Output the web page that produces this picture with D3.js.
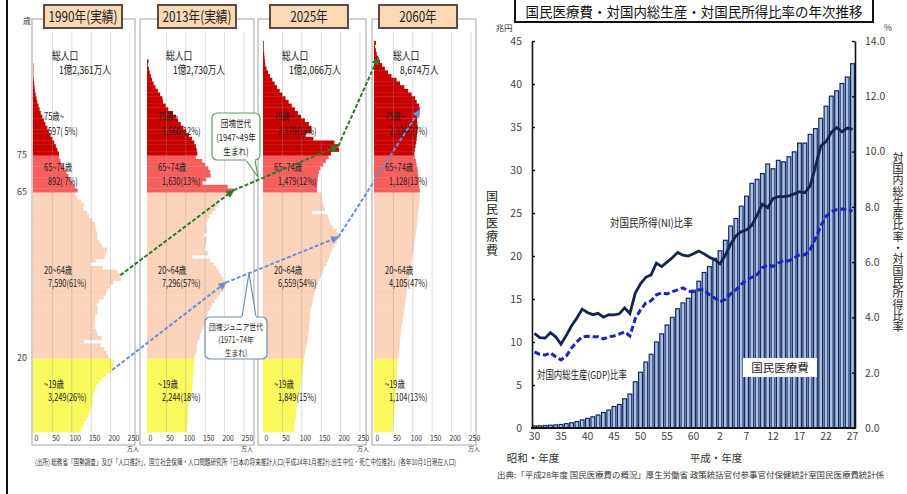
<!DOCTYPE html>
<html>
<head>
<meta charset="utf-8">
<script src="https://cdn.jsdelivr.net/npm/d3@7"></script>
<style>
  body { margin: 0; background: #fff; }
  svg { display: block; font-family: "Noto Sans CJK JP", "Noto Sans", sans-serif; }
</style>
</head>
<body>
<div id="wrapper"></div>
<script>
// ---- left: population by single age (万人), index = age ----
const pop1990 = [
  124,128,132,137,142,145,148,152,154,153,157,159,163,171,177,188,204,206,207,202,
  195,190,184,174,131,177,166,163,158,159,159,160,166,167,165,170,182,188,192,198,
  206,227,225,218,180,147,163,185,189,191,178,172,166,166,164,162,160,153,145,140,
  130,132,124,114,109,
  115,108,102,96,91,86,80,76,71,67,
  67,63,59,55,50,45,41,37,32,28,24,20,17,14,11,9,7,5,4,3,2,1,1,1,1
];
const pop2013 = [
  102,103,104,105,105,106,106,108,110,113,114,116,117,117,118,119,120,119,121,121,
  122,126,129,128,130,135,137,141,145,149,151,154,157,163,169,175,181,188,197,201,
  203,197,191,185,179,172,162,117,158,148,150,153,153,147,155,154,151,156,161,169,
  177,182,185,192,221,
  223,208,143,153,164,163,158,150,142,126,
  130,128,126,122,116,108,101,94,87,80,75,67,55,48,41,40,34,28,22,17,13,10,7,5,2,4
];
const pop2025 = [
  80,81,82,84,85,86,87,88,89,90,93,95,96,98,99,101,102,103,104,106,
  106,108,110,112,114,116,117,118,119,120,121,121,122,123,126,128,130,132,135,138,
  142,146,150,154,157,163,167,170,174,178,183,190,194,195,190,180,174,170,168,127,
  160,156,153,152,150,
  139,139,140,141,142,144,148,155,162,169,
  175,196,194,184,130,110,125,125,118,108,98,90,82,74,66,58,50,43,36,30,24,18,13,9,6,5,4,3,2,2,2
];
const pop2060 = [
  48,49,50,51,52,53,53,54,54,55,56,57,57,58,58,59,59,60,60,61,
  63,64,65,66,67,68,69,70,71,73,74,76,77,79,79,81,82,84,85,87,
  88,90,91,93,94,96,97,99,100,102,103,105,106,108,109,110,111,112,113,114,
  115,116,117,118,118,
  118,117,116,115,114,113,112,110,108,105,
  104,105,107,109,110,111,112,113,112,111,112,116,118,116,110,106,97,88,78,67,58,45,36,28,21,15,11,7,5,3,5
];
const panelTitles = ["1990年(実績)", "2013年(実績)", "2025年", "2060年"];
const totalPop = ["1億2,361万人", "1億2,730万人", "1億2,066万人", "8,674万人"];
const groupNames = ["~19歳", "20~64歳", "65~74歳", "75歳~"];
const groupStarts = [0, 20, 65, 75];
const groupTotals = [
  ["3,249(26%)", "7,590(61%)", "892(\u00a07%)", "597(\u00a05%)"],
  ["2,244(18%)", "7,296(57%)", "1,630(13%)", "1,560(12%)"],
  ["1,849(15%)", "6,559(54%)", "1,479(12%)", "2,179(18%)"],
  ["1,104(13%)", "4,105(47%)", "1,128(13%)", "2,336(27%)"]
];
const popTicks = [0, 50, 100, 150, 200, 250];
const ageTicks = [20, 65, 75];
// age of the two baby-boom cohorts in each panel (last one clamped to top)
const boomerAge = [42.5, 65.5, 77.5, 101.5];
const juniorAge = [16.8, 40.5, 52.8, 87.3];

// ---- right: national medical expenditure, FY 昭和30 (1955) - 平成27 (2015) ----
const fiscalYears = d3.range(1955, 2016);
const medicalCost = [
  0.24,0.26,0.29,0.32,0.36,0.41,0.51,0.61,0.75,0.94,
  1.12,1.30,1.51,1.80,2.08,2.50,2.73,3.40,3.95,5.38,
  6.48,7.67,8.57,10.00,10.95,11.98,12.87,13.87,14.54,15.09,
  16.02,17.07,18.08,18.76,19.73,20.61,21.83,23.48,24.36,25.79,
  26.96,28.45,28.91,29.58,30.70,30.14,31.12,30.95,31.54,32.11,
  33.13,33.13,34.14,34.81,36.01,37.42,38.59,39.21,40.06,40.81,
  42.36
];
const ratioNI = [
  3.42,3.27,3.25,3.45,3.30,3.03,3.35,3.70,3.98,4.30,
  4.18,4.10,4.15,4.01,4.10,4.09,4.13,4.35,4.14,4.87,
  5.22,5.45,5.54,5.97,5.84,6.00,6.16,6.35,6.25,6.22,
  6.30,6.40,6.30,6.18,6.09,5.94,6.25,6.65,6.95,7.10,
  7.17,7.33,7.70,8.10,7.97,8.30,8.37,8.37,8.40,8.47,
  8.55,8.51,8.75,9.45,10.20,10.36,10.69,10.87,10.72,10.85,
  10.80
];
const ratioGDP = [
  2.75,2.66,2.64,2.72,2.58,2.46,2.60,2.90,3.12,3.30,
  3.32,3.30,3.30,3.22,3.30,3.33,3.40,3.48,3.33,3.95,
  4.27,4.52,4.60,4.82,4.89,4.85,4.93,5.00,5.07,4.95,
  4.93,5.00,5.00,4.82,4.70,4.57,4.65,4.85,5.00,5.20,
  5.36,5.45,5.55,5.80,5.90,5.85,5.97,6.05,6.05,6.15,
  6.27,6.27,6.45,6.85,7.30,7.65,7.83,7.90,7.92,7.90,
  7.85
];
const tickYears = [1955,1960,1965,1970,1975,1980,1985,1990,1995,2000,2005,2010,2015];
const tickLabels = ["30","35","40","45","50","55","60","2","7","12","17","22","27"];
const costTicks = [0,5,10,15,20,25,30,35,40,45];
const ratioTicks = [0,2,4,6,8,10,12,14];

const popByAge = [pop1990, pop2013, pop2025, pop2060];

const svg = d3.select("#wrapper").append("svg").attr("width", 907).attr("height", 494);
svg.append("rect").attr("width", 907).attr("height", 494).attr("fill", "#fff");

// make text narrow like the original condensed font (horizontal scale about its anchor)
function squeeze(sel, f) {
  sel.each(function() {
    const t = d3.select(this);
    const x = +t.attr("x") || 0, y = +t.attr("y") || 0;
    t.attr("x", 0).attr("y", 0).attr("transform", `translate(${x},${y}) scale(${f},1)`);
  });
}
function fitWidth(sel, w) {
  sel.each(function() {
    squeeze(d3.select(this), w / this.getComputedTextLength());
  });
}

const defs = svg.append("defs");
[["arrG", "#2b7a2b"], ["arrB", "#6a8fd2"]].forEach(([id, c]) => {
  defs.append("marker").attr("id", id).attr("viewBox", "0 0 10 10")
    .attr("refX", 9).attr("refY", 5).attr("markerWidth", 4).attr("markerHeight", 4)
    .attr("orient", "auto")
    .append("path").attr("d", "M0,0L10,5L0,10z").attr("fill", c);
});

// left border of the slide
svg.append("line").attr("x1", 7).attr("x2", 7).attr("y1", 0).attr("y2", 494)
  .attr("stroke", "#111").attr("stroke-width", 2);

// =============== population pyramids ===============
const ageY = d3.scaleLinear().domain([0, 106]).range([432, 432 - 106 * 3.69]);
const popX = d3.scaleLinear().domain([0, 250]).range([0, 97]);
const panelX0 = [33, 147, 263, 374];
const frameX = [[32, 135], [140, 254], [258, 366], [372, 476]];
const headerCx = [83, 197, 309, 418];
const groupColor = ["#f9f95c", "#fbd3ba", "#f65e5e", "#c80000"];
const groupOf = age => d3.bisectRight(groupStarts, age) - 1;
const nameY = [388, 274, 171, 120];
const numY = [401, 287, 185, 135];

panelX0.forEach((x0, p) => {
  const data = popByAge[p];
  const g = svg.append("g");

  g.append("rect").attr("x", frameX[p][0]).attr("y", 19)
    .attr("width", frameX[p][1] - frameX[p][0]).attr("height", 426)
    .attr("fill", "none").attr("stroke", "#a3a3a3");

  g.selectAll("rect.bar").data(data).join("rect").attr("class", "bar")
    .attr("x", x0)
    .attr("y", (d, i) => ageY(i + 1))
    .attr("height", (d, i) => ageY(i) - ageY(i + 1) + 0.3)
    .attr("width", d => popX(d))
    .attr("fill", (d, i) => groupColor[groupOf(i)]);

  g.selectAll("line.grid").data(popTicks.slice(1)).join("line").attr("class", "grid")
    .attr("x1", d => x0 + popX(d)).attr("x2", d => x0 + popX(d))
    .attr("y1", 32).attr("y2", 432)
    .attr("stroke", "#9a9a9a").attr("stroke-opacity", 0.35);

  const ax = g.append("g").attr("transform", `translate(${x0 + 3},432)`)
    .call(d3.axisBottom(popX).tickValues(popTicks).tickSize(0).tickPadding(3));
  ax.select(".domain").remove();
  ax.attr("font-family", null).attr("font-size", 8);
  ax.selectAll("text").attr("fill", "#333").call(squeeze, 0.85);
  g.append("text").attr("x", x0 + 3 + popX(250)).attr("y", 451)
    .attr("text-anchor", "middle").attr("font-size", 6).attr("fill", "#333").text("万人");

  // header
  g.append("rect").attr("x", headerCx[p] - 39).attr("y", 5).attr("width", 78).attr("height", 23)
    .attr("fill", "#fad9b4").attr("stroke", "#5a4b42").attr("stroke-width", 2);
  g.append("text").attr("x", headerCx[p]).attr("y", 22).attr("text-anchor", "middle")
    .attr("font-size", 15).attr("fill", "#222").text(panelTitles[p])
    .call(squeeze, 0.78);

  g.append("text").attr("x", x0 + 19).attr("y", 60).attr("font-size", 11)
    .attr("fill", "#111").text("総人口").call(squeeze, 0.8);
  g.append("text").attr("x", x0 + 26).attr("y", 74).attr("font-size", 11)
    .attr("fill", "#111").text(totalPop[p]).call(squeeze, 0.78);

  groupNames.forEach((nm, k) => {
    g.append("text").attr("x", x0 + 11).attr("y", nameY[k]).attr("font-size", 10)
      .attr("fill", "#222").text(nm).call(squeeze, 0.75);
    g.append("text").attr("x", x0 + 15).attr("y", numY[k]).attr("font-size", 10)
      .attr("fill", "#222").text(groupTotals[p][k]).call(squeeze, 0.74);
  });
});

svg.selectAll("text.age").data(ageTicks).join("text").attr("class", "age")
  .attr("x", 22).attr("y", d => ageY(d) + 3).attr("text-anchor", "middle")
  .attr("font-size", 9).attr("fill", "#444").text(d => d);
svg.append("text").attr("x", 27).attr("y", 24).attr("text-anchor", "middle")
  .attr("font-size", 8).attr("fill", "#444").text("歳");

// cohort arrows
function cohortPoints(ages) {
  return ages.map((a, p) => [panelX0[p] + popX(popByAge[p][Math.floor(a)] || 0), ageY(a)]);
}
[[boomerAge, "#2b7a2b", "arrG"], [juniorAge, "#6a8fd2", "arrB"]].forEach(([ages, c, m]) => {
  const segs = d3.pairs(cohortPoints(ages));
  svg.selectAll(null).data(segs).join("line")
    .attr("x1", d => d[0][0]).attr("y1", d => d[0][1])
    .attr("x2", d => d[1][0]).attr("y2", d => d[1][1])
    .attr("stroke", c).attr("stroke-width", 2).attr("stroke-dasharray", "4,2")
    .attr("marker-end", `url(#${m})`);
});

// callouts
function callout(x, y, w, h, tail, color, lines, ly, fs) {
  const g = svg.append("g");
  g.append("path").attr("d", `M${tail[0][0]},${tail[0][1]}L${tail[1][0]},${tail[1][1]}L${tail[2][0]},${tail[2][1]}`)
    .attr("fill", "#fff").attr("stroke", color).attr("stroke-width", 1.2);
  g.append("rect").attr("x", x).attr("y", y).attr("width", w).attr("height", h).attr("rx", 5)
    .attr("fill", "#fff").attr("stroke", color).attr("stroke-width", 1.2);
  g.append("path").attr("d", `M${tail[0][0]},${tail[0][1]}L${tail[2][0]},${tail[2][1]}`)
    .attr("stroke", "#fff").attr("stroke-width", 2);
  lines.forEach((t, i) => {
    g.append("text").attr("x", x + w / 2).attr("y", ly[i]).attr("text-anchor", "middle")
      .attr("font-size", fs).attr("fill", "#222").text(t).call(squeeze, 0.8);
  });
}
callout(212, 113, 48, 47, [[246, 160], [258, 177], [255, 160]], "#5e9c5e",
  ["団塊世代", "(1947~49年", "生まれ)"], [127, 141, 155], 9.5);
callout(205, 317, 62, 42, [[242, 317], [249, 273], [256, 317]], "#6f8db3",
  ["団塊ジュニア世代", "(1971~74年", "生まれ)"], [330, 343, 356], 8.5);

svg.append("text").attr("x", 35).attr("y", 465).attr("font-size", 8).attr("fill", "#333")
  .text("(出所) 総務省「国勢調査」及び「人口推計」、国立社会保障・人口問題研究所「日本の将来推計人口(平成24年1月推計):出生中位・死亡中位推計」(各年10月1日現在人口)")
  .call(fitWidth, 422);

// =============== medical expenditure chart ===============
const xB = d3.scaleBand().domain(fiscalYears).range([532, 855]).paddingInner(0.06);
const yL = d3.scaleLinear().domain([0, 45]).range([428, 41]);
const yR = d3.scaleLinear().domain([0, 14]).range([428, 41]);
const cx = i => xB(fiscalYears[i]) + xB.bandwidth() / 2;

// title
svg.append("rect").attr("x", 515).attr("y", -2).attr("width", 358).attr("height", 24)
  .attr("fill", "#fff").attr("stroke", "#111").attr("stroke-width", 2);
svg.append("text").attr("x", 694).attr("y", 17).attr("text-anchor", "middle")
  .attr("font-size", 14).attr("fill", "#111")
  .text("国民医療費・対国内総生産・対国民所得比率の年次推移")
  .call(fitWidth, 337);

svg.append("text").attr("x", 504).attr("y", 31).attr("text-anchor", "middle")
  .attr("font-size", 8.5).attr("fill", "#333").text("兆円");
svg.append("text").attr("x", 888).attr("y", 31).attr("text-anchor", "middle")
  .attr("font-size", 8.5).attr("fill", "#333").text("%");

// bars
svg.append("g").selectAll("rect").data(medicalCost).join("rect")
  .attr("x", (d, i) => xB(fiscalYears[i]) + 0.6)
  .attr("y", d => yL(d))
  .attr("width", xB.bandwidth() - 1.2)
  .attr("height", d => yL(0) - yL(d))
  .attr("fill", "#a9c2e6").attr("stroke", "#15285e").attr("stroke-width", 1.2);

// lines
svg.append("path").datum(ratioGDP)
  .attr("d", d3.line().x((d, i) => cx(i)).y(d => yR(d)))
  .attr("fill", "none").attr("stroke", "#1c22c8").attr("stroke-width", 3)
  .attr("stroke-dasharray", "6,3");
svg.append("path").datum(ratioNI)
  .attr("d", d3.line().x((d, i) => cx(i)).y(d => yR(d)))
  .attr("fill", "none").attr("stroke", "#13244f").attr("stroke-width", 2.8);

// axes
const axL = svg.append("g").attr("transform", "translate(532,0)")
  .call(d3.axisLeft(yL).tickValues(costTicks).tickSizeInner(-3).tickSizeOuter(0).tickPadding(10));
const axR = svg.append("g").attr("transform", "translate(855,0)")
  .call(d3.axisRight(yR).tickValues(ratioTicks).tickFormat(d3.format(".1f"))
    .tickSizeInner(-3).tickSizeOuter(0).tickPadding(10));
[axL, axR].forEach(a => {
  a.attr("font-family", null).attr("font-size", 10.5);
  a.select(".domain").attr("stroke", "#111").attr("stroke-width", 1.6);
  a.selectAll(".tick line").attr("stroke", "#111").attr("stroke-width", 1.4);
  a.selectAll("text").attr("fill", "#444");
});
svg.append("line").attr("x1", 531).attr("x2", 856).attr("y1", 428).attr("y2", 428)
  .attr("stroke", "#111").attr("stroke-width", 2);

const axB = svg.append("g").attr("transform", "translate(0,428)")
  .call(d3.axisBottom(xB).tickValues(tickYears).tickFormat((d, i) => tickLabels[i])
    .tickSize(0).tickPadding(5));
axB.select(".domain").remove();
axB.attr("font-family", null).attr("font-size", 10.5);
axB.selectAll("text").attr("fill", "#444");

svg.append("text").attr("x", 533).attr("y", 462).attr("text-anchor", "middle")
  .attr("font-size", 10.5).attr("fill", "#333").text("昭和・年度");
svg.append("text").attr("x", 716).attr("y", 462).attr("text-anchor", "middle")
  .attr("font-size", 10.5).attr("fill", "#333").text("平成・年度");

// vertical axis titles
svg.append("text").attr("x", 492).attr("y", 190)
  .style("writing-mode", "vertical-rl").attr("letter-spacing", 1.5)
  .attr("font-size", 12).attr("fill", "#222").text("国民医療費");
svg.append("text").attr("x", 898).attr("y", 152)
  .style("writing-mode", "vertical-rl").attr("letter-spacing", 0.3)
  .attr("font-size", 11).attr("fill", "#222").text("対国内総生産比率・対国民所得比率");

// series labels
svg.append("text").attr("x", 610).attr("y", 227).attr("font-size", 11).attr("fill", "#222")
  .text("対国民所得(NI)比率").call(fitWidth, 83);
svg.append("text").attr("x", 537).attr("y", 379).attr("font-size", 11).attr("fill", "#222")
  .text("対国内総生産(GDP)比率").call(fitWidth, 90);
svg.append("rect").attr("x", 743).attr("y", 358).attr("width", 74).attr("height", 19).attr("fill", "#fff");
svg.append("text").attr("x", 780).attr("y", 372).attr("text-anchor", "middle")
  .attr("font-size", 11.5).attr("fill", "#222").text("国民医療費");

svg.append("text").attr("x", 497).attr("y", 478).attr("font-size", 8).attr("fill", "#333")
  .text("出典:「平成28年度 国民医療費の概況」厚生労働省 政策統括官付参事官付保健統計室国民医療費統計係")
  .call(fitWidth, 388);
</script>
</body>
</html>
